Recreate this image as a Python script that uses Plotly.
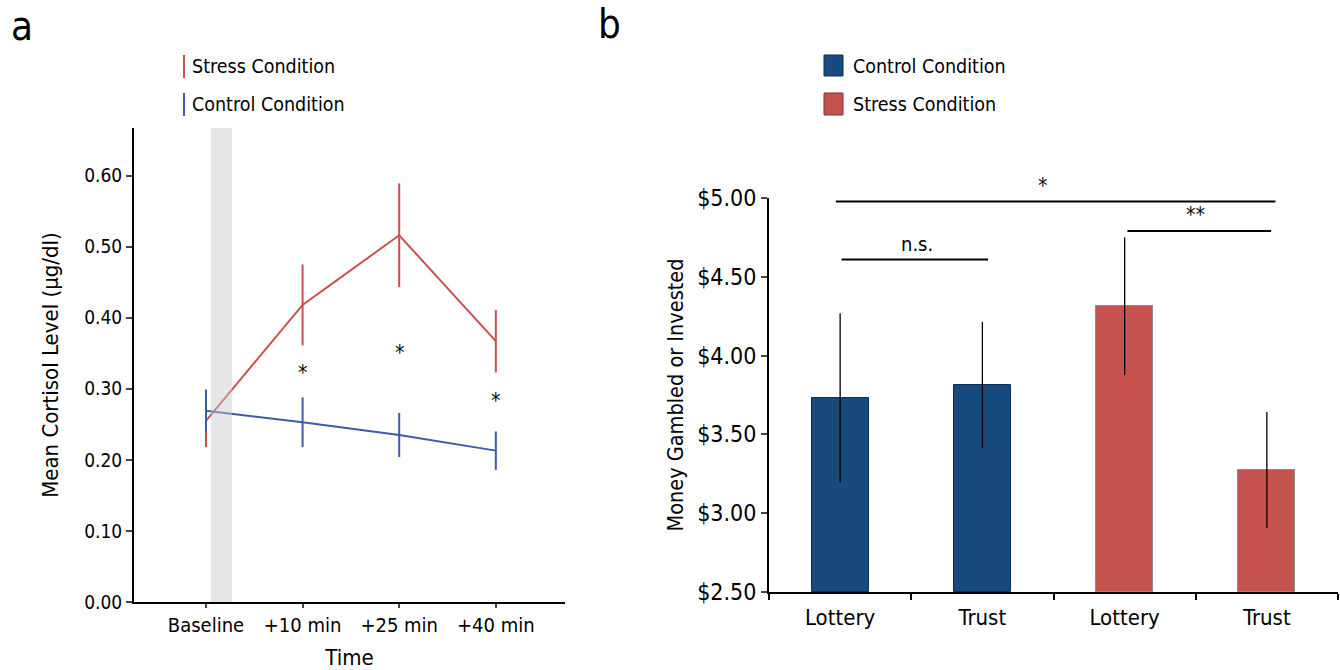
import plotly.graph_objects as go

FONT = "DejaVu Sans Condensed, Liberation Sans Narrow, sans-serif"

# ---- Panel a data ----
time_labels = ["Baseline", "+10 min", "+25 min", "+40 min"]
time_pos = [0, 1, 2, 3]
stress_cortisol = [0.255, 0.418, 0.516, 0.367]
stress_err = [0.037, 0.057, 0.073, 0.044]
control_cortisol = [0.269, 0.253, 0.235, 0.213]
control_err = [0.030, 0.035, 0.031, 0.027]
star_pos = [1, 2, 3]
star_y = [0.328, 0.356, 0.288]

# ---- Panel b data ----
task_labels = ["Lottery", "Trust", "Lottery", "Trust"]
control_pos = [0, 1]
control_money = [3.733, 3.813]
control_money_err = [0.536, 0.401]
stress_pos = [2, 3]
stress_money = [4.313, 3.274]
stress_money_err = [0.437, 0.368]

RED = "#C8504E"
BLUE = "#3D5BA9"
BAR_BLUE = "#174B7E"
BAR_RED = "#C5524F"

fig = go.Figure()

fig.add_trace(go.Scatter(
    x=time_pos, y=stress_cortisol, mode="lines", name="Stress Condition",
    line=dict(color=RED, width=2),
    error_y=dict(type="data", array=stress_err, color=RED, thickness=2, width=0),
    xaxis="x", yaxis="y", showlegend=False))
fig.add_trace(go.Scatter(
    x=time_pos, y=control_cortisol, mode="lines", name="Control Condition",
    line=dict(color=BLUE, width=2),
    error_y=dict(type="data", array=control_err, color=BLUE, thickness=2, width=0),
    xaxis="x", yaxis="y", showlegend=False))

for xp, yp in zip(star_pos, star_y):
    fig.add_annotation(x=xp, y=yp, xref="x", yref="y", text="*", showarrow=False,
                       font=dict(size=21, color="black", family=FONT), yanchor="middle", yshift=-4)

fig.add_shape(type="rect", xref="x", yref="paper", x0=0.05, x1=0.27,
              y0=(670 - 602) / 670, y1=(670 - 128) / 670,
              fillcolor="rgba(200,200,200,0.45)", line=dict(width=0), layer="above")

fig.add_trace(go.Bar(
    x=control_pos, y=[v - 2.5 for v in control_money], base=2.5, width=0.4,
    name="Control Condition", marker=dict(color=BAR_BLUE, line=dict(color="#0E2E52", width=1)),
    error_y=dict(type="data", array=control_money_err, color="black", thickness=1.3, width=0),
    xaxis="x2", yaxis="y2", showlegend=False))
fig.add_trace(go.Bar(
    x=stress_pos, y=[v - 2.5 for v in stress_money], base=2.5, width=0.4,
    name="Stress Condition", marker=dict(color=BAR_RED, line=dict(color="#8C8C8C", width=1)),
    error_y=dict(type="data", array=stress_money_err, color="black", thickness=1.3, width=0),
    xaxis="x2", yaxis="y2", showlegend=False))

# significance brackets (panel b)
sig = [(-0.03, 3.06, 4.977, 1.42, "*"), (2.02, 3.03, 4.79, 2.5, "**"), (0.01, 1.04, 4.61, 0.54, "n.s.")]
for x0, x1, yv, xt, txt in sig:
    fig.add_shape(type="line", xref="x2", yref="y2", x0=x0, x1=x1, y0=yv, y1=yv,
                  line=dict(color="black", width=2))
    fig.add_annotation(x=xt, y=yv, xref="x2", yref="y2", text=txt, showarrow=False,
                       yanchor="bottom", yshift=2 if txt != "n.s." else 1,
                       font=dict(size=21 if txt != "n.s." else 20, color="black", family=FONT))

# custom legends
def px(x):
    return x / 1340
def py(y):
    return (670 - y) / 670

LEG = 19.5
fig.add_shape(type="line", xref="paper", yref="paper", x0=px(184), x1=px(184), y0=py(55), y1=py(78),
              line=dict(color=RED, width=2))
fig.add_shape(type="line", xref="paper", yref="paper", x0=px(184), x1=px(184), y0=py(93), y1=py(116),
              line=dict(color=BLUE, width=2))
fig.add_annotation(x=px(190), y=py(66), xref="paper", yref="paper", text="Stress Condition",
                   showarrow=False, xanchor="left", yanchor="middle", font=dict(size=LEG, family=FONT, color="black"))
fig.add_annotation(x=px(190), y=py(104), xref="paper", yref="paper", text="Control Condition",
                   showarrow=False, xanchor="left", yanchor="middle", font=dict(size=LEG, family=FONT, color="black"))

fig.add_shape(type="rect", xref="paper", yref="paper", x0=px(824), x1=px(843), y0=py(76), y1=py(55),
              fillcolor=BAR_BLUE, line=dict(color="#0E2E52", width=1))
fig.add_shape(type="rect", xref="paper", yref="paper", x0=px(824), x1=px(843), y0=py(115), y1=py(93),
              fillcolor=BAR_RED, line=dict(color="#6E3A38", width=1))
fig.add_annotation(x=px(851), y=py(66), xref="paper", yref="paper", text="Control Condition",
                   showarrow=False, xanchor="left", yanchor="middle", font=dict(size=LEG, family=FONT, color="black"))
fig.add_annotation(x=px(851), y=py(104), xref="paper", yref="paper", text="Stress Condition",
                   showarrow=False, xanchor="left", yanchor="middle", font=dict(size=LEG, family=FONT, color="black"))

fig.add_annotation(x=px(9), y=py(26), xref="paper", yref="paper", text="a", showarrow=False,
                   xanchor="left", yanchor="middle", font=dict(size=40, family=FONT, color="black"))
fig.add_annotation(x=px(596), y=py(24), xref="paper", yref="paper", text="b", showarrow=False,
                   xanchor="left", yanchor="middle", font=dict(size=40, family=FONT, color="black"))

fig.update_layout(
    width=1340, height=670, margin=dict(l=0, r=0, t=0, b=0, autoexpand=False),
    paper_bgcolor="white", plot_bgcolor="white",
    font=dict(family=FONT, color="black"),
    bargap=0, showlegend=False,
    xaxis=dict(domain=[px(134), px(565)], range=[-0.745, 3.716], tickmode="array",
               tickvals=time_pos, ticktext=time_labels, ticks="outside", ticklen=4, tickwidth=1.5,
               showline=True, linecolor="black", linewidth=2, showgrid=False, zeroline=False,
               tickfont=dict(size=20), title=dict(text="Time", font=dict(size=22), standoff=14),
               automargin=False),
    yaxis=dict(domain=[py(602), py(128)], range=[0, 0.667], tickmode="array",
               tickvals=[0, 0.1, 0.2, 0.3, 0.4, 0.5, 0.6], tickformat=".2f",
               ticks="outside", ticklen=6, tickwidth=1.5, showline=True, linecolor="black", linewidth=2,
               showgrid=False, zeroline=False, tickfont=dict(size=19), automargin=False,
               title=dict(text="Mean Cortisol Level (µg/dl)", font=dict(size=22), standoff=19)),
    xaxis2=dict(domain=[px(769), px(1338)], range=[-0.5, 3.5], tickmode="array",
                tickvals=[0, 1, 2, 3], ticktext=task_labels, ticks="outside", ticklen=5,
                tickcolor="rgba(0,0,0,0)",
                minor=dict(tickmode="array", tickvals=[-0.5, 0.5, 1.5, 2.5, 3.5], ticks="outside",
                           ticklen=6, tickwidth=1.5, tickcolor="black"),
                showline=True, linecolor="black", linewidth=2, showgrid=False, zeroline=False,
                tickfont=dict(size=22), anchor="y2", automargin=False),
    yaxis2=dict(domain=[py(592), py(198)], range=[2.5, 5.0], tickmode="array",
                tickvals=[2.5, 3.0, 3.5, 4.0, 4.5, 5.0], tickformat="$.2f",
                ticks="outside", ticklen=6, tickwidth=1.5, showline=True, linecolor="black", linewidth=2,
                showgrid=False, zeroline=False, tickfont=dict(size=23), anchor="x2", automargin=False,
                title=dict(text="Money Gambled or Invested", font=dict(size=21.5), standoff=8)),
)

fig.write_html("out.html", post_script="document.body.style.margin='0';",
               config={"displayModeBar": False})
